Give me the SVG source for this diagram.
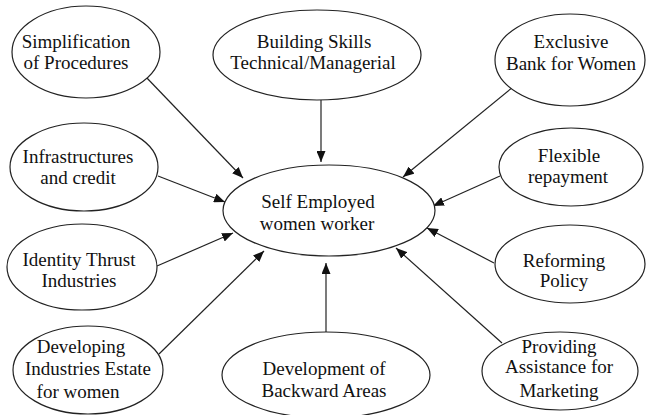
<svg xmlns="http://www.w3.org/2000/svg" width="647" height="415" viewBox="0 0 647 415">
  <style>
    .node ellipse { fill: #fff; stroke: #222; stroke-width: 1.2; }
    .node text { font-family: "Liberation Serif", "Times New Roman", serif; font-size: 19px; fill: #111; text-anchor: middle; }
    .edge { stroke: #222; stroke-width: 1.2; fill: none; marker-end: url(#arrow); }
  </style>
  <defs>
    <marker id="arrow" markerWidth="11" markerHeight="9" refX="11" refY="4.5" orient="auto" markerUnits="userSpaceOnUse">
      <path d="M0,0 L11,4.5 L0,9 z" fill="#111"/>
    </marker>
  </defs>
  <rect width="647" height="415" fill="#fff"/>

  <!-- connectors: every factor points to the central node -->
  <g id="connectors">
    <line class="edge" x1="145" y1="76" x2="243" y2="178"/>
    <line class="edge" x1="321" y1="100" x2="321" y2="162"/>
    <line class="edge" x1="513" y1="87" x2="403" y2="177"/>
    <line class="edge" x1="158" y1="176" x2="225" y2="202"/>
    <line class="edge" x1="157" y1="266" x2="233" y2="233"/>
    <line class="edge" x1="159" y1="354" x2="264" y2="251"/>
    <line class="edge" x1="326" y1="332" x2="326" y2="263"/>
    <line class="edge" x1="500" y1="176" x2="433" y2="206"/>
    <line class="edge" x1="494" y1="263" x2="427" y2="228"/>
    <line class="edge" x1="502" y1="343" x2="396" y2="248"/>
  </g>

  <g id="center" class="node">
    <ellipse cx="329" cy="210.5" rx="106" ry="45.5"/>
    <text x="318" y="208">Self Employed</text>
    <text x="317" y="230">women worker</text>
  </g>

  <g id="simplification" class="node">
    <ellipse cx="86" cy="52" rx="74" ry="46"/>
    <text x="76" y="48">Simplification</text>
    <text x="76" y="69">of Procedures</text>
  </g>

  <g id="building-skills" class="node">
    <ellipse cx="317" cy="55" rx="104" ry="45"/>
    <text x="314" y="48">Building Skills</text>
    <text x="313" y="69">Technical/Managerial</text>
  </g>

  <g id="exclusive-bank" class="node">
    <ellipse cx="570" cy="60" rx="75" ry="46"/>
    <text x="571" y="48">Exclusive</text>
    <text x="571" y="70">Bank for Women</text>
  </g>

  <g id="infrastructures" class="node">
    <ellipse cx="84" cy="167" rx="74" ry="44"/>
    <text x="78" y="163">Infrastructures</text>
    <text x="78" y="184">and credit</text>
  </g>

  <g id="identity-thrust" class="node">
    <ellipse cx="82" cy="267" rx="75" ry="43"/>
    <text x="79" y="266">Identity Thrust</text>
    <text x="79" y="287">Industries</text>
  </g>

  <g id="industries-estate" class="node">
    <ellipse cx="88" cy="370" rx="75" ry="44"/>
    <text x="81" y="353">Developing</text>
    <text x="88" y="375">Industries Estate</text>
    <text x="78" y="398">for women</text>
  </g>

  <g id="backward-areas" class="node">
    <ellipse cx="326" cy="375" rx="104" ry="43"/>
    <text x="324" y="375">Development of</text>
    <text x="324" y="397">Backward Areas</text>
  </g>

  <g id="flexible-repayment" class="node">
    <ellipse cx="571" cy="167" rx="72" ry="39"/>
    <text x="569" y="162">Flexible</text>
    <text x="568" y="183">repayment</text>
  </g>

  <g id="reforming-policy" class="node">
    <ellipse cx="570" cy="264" rx="75" ry="39"/>
    <text x="564" y="267">Reforming</text>
    <text x="564" y="287">Policy</text>
  </g>

  <g id="marketing-assistance" class="node">
    <ellipse cx="560" cy="371" rx="78" ry="39"/>
    <text x="559" y="353">Providing</text>
    <text x="559" y="373">Assistance for</text>
    <text x="559" y="397">Marketing</text>
  </g>
</svg>
